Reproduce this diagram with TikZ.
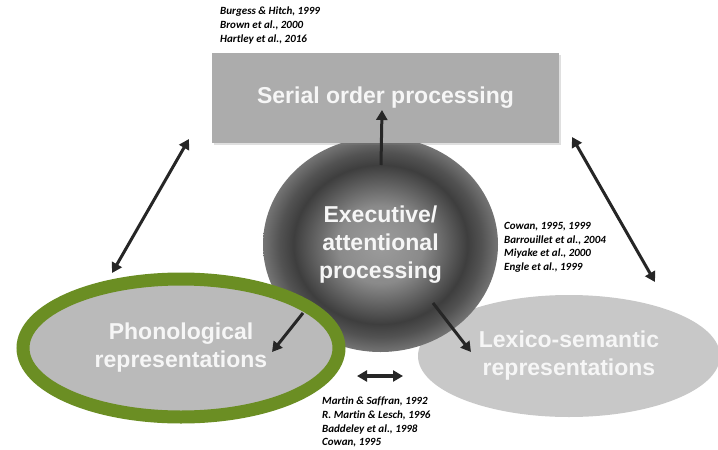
\documentclass[tikz,border=0pt]{standalone}
\usepackage{fontspec}
\setmainfont{Liberation Sans}
\newfontfamily\citefont[Ligatures=NoCommon]{Carlito}
\usetikzlibrary{arrows.meta}
\usetikzlibrary{shapes.geometric}
\usetikzlibrary{shadows}
\definecolor{box-gray}{RGB}{172, 172, 172}
\definecolor{phon-gray}{RGB}{186, 186, 186}
\definecolor{lex-gray}{RGB}{200, 200, 200}
\definecolor{ring-green}{RGB}{107, 142, 35}
\definecolor{arrow-dark}{RGB}{38, 38, 38}
\definecolor{label-white}{RGB}{246, 246, 246}
\definecolor{sphere-light}{RGB}{156, 156, 156}
\definecolor{sphere-mid}{RGB}{138, 138, 138}
\definecolor{sphere-dark}{RGB}{62, 62, 62}
\definecolor{sphere-outer}{RGB}{82, 82, 82}
\definecolor{sphere-rim}{RGB}{116, 116, 116}
\pgfdeclareradialshading{exec-sphere}{\pgfpoint{0bp}{0bp}}{color(0bp)=(sphere-light); color(9bp)=(sphere-mid); color(18.5bp)=(sphere-dark); color(21.5bp)=(sphere-outer); color(25bp)=(sphere-rim); color(50bp)=(sphere-rim)}

\begin{document}
\begin{tikzpicture}[x=1pt, y=-1pt,
    label/.style={text=label-white, align=center, font=\bfseries\fontsize{23}{28}\selectfont},
    box/.style={label, rectangle, fill=box-gray, minimum width=347pt, minimum height=90pt, outer sep=0pt,
        drop shadow={shadow xshift=2pt, shadow yshift=-2pt, opacity=0.25}},
    sphere/.style={label, ellipse, minimum width=235pt, minimum height=215pt, outer sep=0pt, shading=exec-sphere},
    oval/.style={label, ellipse, outer sep=0pt},
    cite/.style={anchor=north west, align=left, inner sep=0pt, font=\citefont\bfseries\itshape\fontsize{11}{13.6}\selectfont},
    arr/.style={draw=arrow-dark, line width=3pt, -{Triangle[length=10pt, width=11pt]}},
    twoway/.style={draw=arrow-dark, line width=3pt, {Triangle[length=10pt, width=11pt]}-{Triangle[length=10pt, width=11pt]}}]
\useasboundingbox[fill=white] (0,0) rectangle (718,450);

\node[oval, fill=lex-gray, minimum width=302pt, minimum height=122pt] (lex) at (569,356) {Lexico-semantic\\representations};
\node[sphere] (exec) at (380.5,244.5) {Executive/\\attentional\\processing};
\node[oval, fill=phon-gray, draw=ring-green, line width=13pt, minimum width=316pt, minimum height=138pt] (phon) at (181,348) {Phonological\\representations};
\node[box] (serial) at (385.5,98) {Serial order processing};

\node[cite] (cite-serial) at (220,7) {Burgess \& Hitch, 1999\\Brown et al., 2000\\Hartley et al., 2016};
\node[cite] (cite-exec) at (504,222) {Cowan, 1995, 1999\\Barrouillet et al., 2004\\Miyake et al., 2000\\Engle et al., 1999};
\node[cite] (cite-link) at (322,397) {Martin \& Saffran, 1992\\R. Martin \& Lesch, 1996\\Baddeley et al., 1998\\Cowan, 1995};

\draw[arr] ([shift={(0.5,-79.5)}]exec.center) -- ([shift={(-3.5,12)}]serial.center);
\draw[arr] ([shift={(-77.5,68.5)}]exec.center) -- ([shift={(91,4)}]phon.center);
\draw[arr] ([shift={(52.5,58.5)}]exec.center) -- ([shift={(-98,-4)}]lex.center);
\draw[twoway] ([shift={(-23,-4)}]serial.south west) -- ([shift={(-69,-75)}]phon.center);
\draw[twoway] ([shift={(13,-6)}]serial.south east) -- ([shift={(86,-74)}]lex.center);

\coordinate (swap-l) at (357,376);
\coordinate (swap-r) at (403,376);
\draw[twoway, line width=4pt] (swap-l) -- (swap-r);
\end{tikzpicture}
\end{document}
